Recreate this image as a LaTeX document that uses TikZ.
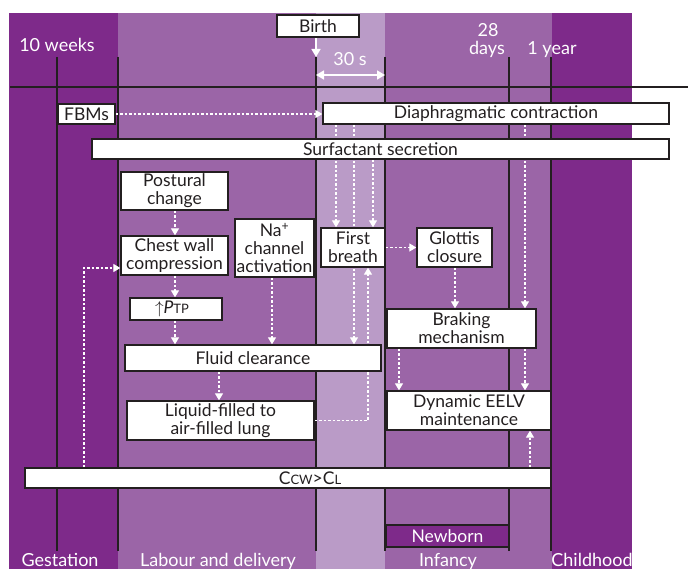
\documentclass[tikz,border=0pt]{standalone}
\usepackage{fontspec}
\setmainfont{Lato}
\usetikzlibrary{arrows.meta}
\definecolor{dpurple}{RGB}{126,42,138}
\definecolor{mpurple}{RGB}{155,101,167}
\definecolor{lpurple}{RGB}{186,155,199}
\definecolor{edge}{RGB}{35,31,32}
\pgfdeclarelayer{bg}
\pgfdeclarelayer{lines}
\pgfsetlayers{bg,lines,main}
\tikzset{
  box/.style={draw=edge, line width=1.3bp, fill=white, inner sep=0pt, align=center,
    font=\fontsize{17.5bp}{18bp}\selectfont, text=edge},
  wlabel/.style={text=white, inner sep=0pt, font=\fontsize{18bp}{18bp}\selectfont, anchor=base},
  dasharrow/.style={white, line width=1.2bp, dash pattern=on 2.5bp off 2bp,
    -{Triangle[width=8bp,length=7bp]}},
  solidarrow/.style={white, line width=1.5bp, -{Triangle[width=9bp,length=8bp]}},
  dsolidarrow/.style={white, line width=1.5bp, {Triangle[width=9bp,length=8bp]}-{Triangle[width=9bp,length=8bp]}},
  divider/.style={edge, line width=1.3bp},
}
\newcommand{\smc}[1]{{\fontsize{13bp}{13bp}\selectfont #1}}
\begin{document}
\begin{tikzpicture}[x=1bp,y=-1bp]
\useasboundingbox (0,0) rectangle (688,569);
\begin{pgfonlayer}{bg}
  \fill[dpurple] (9,13) rectangle (118,569);
  \fill[mpurple] (118,13) rectangle (316,569);
  \fill[lpurple] (316,13) rectangle (385,569);
  \fill[mpurple] (385,13) rectangle (552,569);
  \fill[dpurple] (552,13) rectangle (632,569);
  \draw[divider] (10,87) -- (688,87);
  \foreach \x in {57,118,316,385,509,551} \draw[divider] (\x,57) -- (\x,551);
\end{pgfonlayer}

% column coordinates
\coordinate (x84) at (84,0);
\coordinate (x175) at (175,0);
\coordinate (x219) at (219,0);
\coordinate (x272) at (272,0);
\coordinate (x336) at (336,0);
\coordinate (x354) at (354,0);
\coordinate (x368) at (368,0);
\coordinate (x373) at (373,0);
\coordinate (x399) at (399,0);
\coordinate (x455) at (455,0);
\coordinate (x525) at (525,0);
\coordinate (x530) at (530,0);
\coordinate (y268) at (0,268);
\coordinate (birthtip) at (316,57);
\coordinate (spanL) at (316,75);
\coordinate (spanR) at (385,75);

% labels
\node[wlabel] (weeks) at (57,51.5) {10 weeks};
\node[wlabel] (d28) at (488,37) {28};
\node[wlabel] (days) at (487,55) {days};
\node[wlabel] (year) at (552,55) {1 year};
\node[wlabel] (thirty) at (350,66) {30 s};
\node[wlabel] (gest) at (60,566) {Gestation};
\node[wlabel] (labour) at (218,566) {Labour and delivery};
\node[wlabel] (infancy) at (448,566) {Infancy};
\node[wlabel] (child) at (592,566) {Childhood};

% boxes
\node[box, minimum width=82bp, minimum height=22bp] (birth) at (318,26) {Birth};
\node[box, minimum width=57bp, minimum height=20bp] (fbm) at (86.5,114) {FBMs};
\node[box, minimum width=346bp, minimum height=21bp] (diaph) at (496,113.5) {Diaphragmatic contraction};
\node[box, minimum width=577bp, minimum height=20bp] (surf) at (380.5,149) {Surfactant secretion};
\node[box, minimum width=107bp, minimum height=38bp] (postural) at (174.5,191) {Postural\\change};
\node[box, minimum width=107bp, minimum height=39bp] (chest) at (174.5,255.5) {Chest wall\\compression};
\node[box, minimum width=79bp, minimum height=58bp] (na) at (274.5,248) {Na\textsuperscript{+}\\channel\\activation};
\node[box, minimum width=64bp, minimum height=39bp] (first) at (353,247.5) {First\\breath};
\node[box, minimum width=75bp, minimum height=39bp] (glottis) at (454.5,247.5) {Glottis\\closure};
\node[box, minimum width=92bp, minimum height=22bp] (ptp) at (176,309) {\hspace*{-8bp}{\fontsize{16bp}{16bp}\selectfont$\uparrow$}\textit{P}\smc{TP}};
\node[box, minimum width=256bp, minimum height=26bp] (fluid) at (253,358) {Fluid clearance};
\node[box, minimum width=187bp, minimum height=39bp] (liquid) at (220.5,420.5) {Liquid-filled to\\air-filled lung};
\node[box, minimum width=149bp, minimum height=39bp] (braking) at (461.5,328.5) {Braking\\mechanism};
\node[box, minimum width=164bp, minimum height=39bp] (eelv) at (469,410.5) {Dynamic EELV\\maintenance};
\node[box, minimum width=526bp, minimum height=20bp] (ccw) at (288,478) {\hspace*{44bp}C\smc{CW}>C\smc{L}};
\node[box, fill=dpurple, text=white, minimum width=123bp, minimum height=22bp] (newborn) at (447.5,536) {Newborn};

% connectors
\begin{pgfonlayer}{lines}
  \draw[solidarrow] (birth.south -| birthtip) -- (birthtip);
  \draw[dsolidarrow] (spanL) -- (spanR);
  \draw[dasharrow] (fbm.east) -- (fbm.east -| diaph.west);
  \draw[dasharrow] (x336 |- diaph.south) -- (x336 |- first.north);
  \draw[dasharrow] (x354 |- diaph.south) -- (x354 |- fluid.north);
  \draw[dasharrow] (x373 |- surf.south) -- (x373 |- first.north);
  \draw[dasharrow] (x525 |- diaph.south) -- (x525 |- braking.north);
  \draw[dasharrow] (first.east) -- (glottis.west);
  \draw[dasharrow] (x455 |- glottis.south) -- (x455 |- braking.north);
  \draw[dasharrow] (x399 |- braking.south) -- (x399 |- eelv.north);
  \draw[dasharrow] (x525 |- braking.south) -- (x525 |- eelv.north);
  \draw[dasharrow] (x530 |- ccw.north) -- (x530 |- eelv.south);
  \draw[dasharrow] (x175 |- postural.south) -- (x175 |- chest.north);
  \draw[dasharrow] (x175 |- chest.south) -- (x175 |- ptp.north);
  \draw[dasharrow] (x175 |- ptp.south) -- (x175 |- fluid.north);
  \draw[dasharrow] (x272 |- na.south) -- (x272 |- fluid.north);
  \draw[dasharrow] (x219 |- fluid.south) -- (x219 |- liquid.north);
  \draw[dasharrow] (liquid.east) -| (x368 |- first.south);
  \draw[dasharrow] (x84 |- ccw.north) |- (chest.west |- y268);
\end{pgfonlayer}
\end{tikzpicture}
\end{document}
